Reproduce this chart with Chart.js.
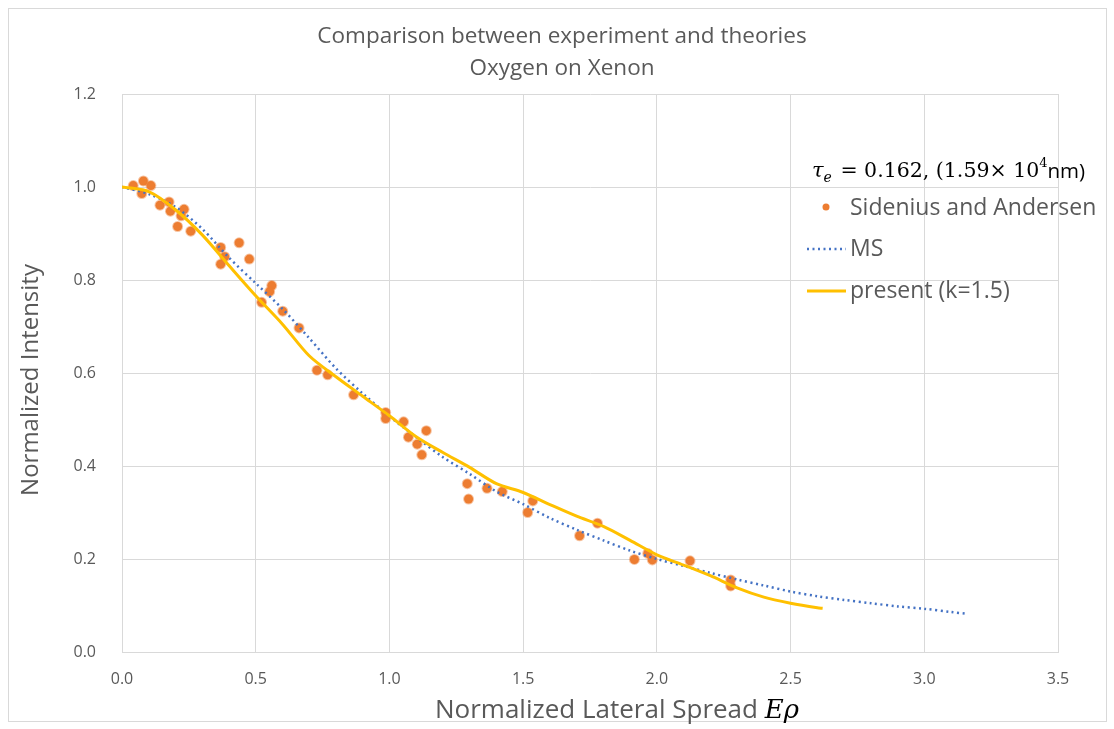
<!DOCTYPE html>
<html>
<head>
<meta charset="utf-8">
<script src="https://cdn.jsdelivr.net/npm/chart.js@4/dist/chart.umd.min.js"></script>
<style>
  body { margin: 0; background: #fff; }
</style>
</head>
<body>
<canvas id="lateral-chart" width="1114" height="729"></canvas>
<script>
"use strict";

// Sidenius and Andersen (experiment)
let expX = [0.042, 0.080, 0.108, 0.074, 0.142, 0.176, 0.181, 0.232, 0.221, 0.208, 0.257,
  0.369, 0.438, 0.384, 0.369, 0.476, 0.560, 0.552, 0.522, 0.601, 0.662, 0.729, 0.769,
  0.866, 0.986, 0.986, 1.053, 1.138, 1.071, 1.104, 1.121, 1.291, 1.296, 1.365, 1.422,
  1.536, 1.517, 1.778, 1.711, 1.966, 1.983, 1.916, 2.124, 2.276, 2.276];
let expY = [1.003, 1.013, 1.003, 0.986, 0.961, 0.968, 0.948, 0.952, 0.938, 0.915, 0.905,
  0.870, 0.880, 0.850, 0.834, 0.845, 0.788, 0.775, 0.752, 0.733, 0.697, 0.606, 0.596,
  0.553, 0.515, 0.502, 0.495, 0.476, 0.462, 0.447, 0.424, 0.362, 0.329, 0.352, 0.345,
  0.325, 0.300, 0.277, 0.250, 0.212, 0.198, 0.199, 0.196, 0.155, 0.142];

// MS theory
let msX = [0, 0.1, 0.2, 0.3, 0.4, 0.5, 0.6, 0.7, 0.8, 0.9, 1.0, 1.1, 1.2, 1.3, 1.4, 1.5,
  1.6, 1.7, 1.8, 1.9, 2.0, 2.1, 2.2, 2.3, 2.4, 2.5, 2.6, 2.7, 2.8, 2.9, 3.0, 3.1, 3.16];
let msY = [1.000, 0.985, 0.957, 0.910, 0.848, 0.793, 0.738, 0.675, 0.610, 0.556, 0.507,
  0.462, 0.419, 0.383, 0.345, 0.318, 0.288, 0.263, 0.240, 0.218, 0.200, 0.185, 0.170,
  0.156, 0.143, 0.130, 0.120, 0.112, 0.105, 0.098, 0.093, 0.086, 0.082];

// present (k=1.5)
let presentX = [0, 0.1, 0.2, 0.3, 0.4, 0.5, 0.6, 0.7, 0.8, 0.9, 1.0, 1.1, 1.2, 1.3, 1.4,
  1.5, 1.6, 1.7, 1.8, 1.9, 2.0, 2.1, 2.2, 2.3, 2.4, 2.5, 2.6, 2.62];
let presentY = [1.000, 0.990, 0.951, 0.897, 0.831, 0.766, 0.705, 0.637, 0.592, 0.550,
  0.508, 0.463, 0.429, 0.397, 0.362, 0.343, 0.317, 0.292, 0.270, 0.240, 0.209, 0.187,
  0.164, 0.138, 0.118, 0.105, 0.095, 0.094];

let titleLines = ["Comparison between experiment and theories", "Oxygen on Xenon"];
let xTitle = "Normalized Lateral Spread ";
let yTitle = "Normalized Intensity";
let legendLabels = ["Sidenius and Andersen", "MS", "present (k=1.5)"];

let orange = "#ED7D31";
let blue = "#4472C4";
let gold = "#FFC000";
let textGrey = "#595959";
let gridGrey = "#d9d9d9";
let sans = "'Open Sans', 'Noto Sans', sans-serif";
let serif = "'DejaVu Serif', 'Liberation Serif', serif";

function toPoints(xs, ys) {
  let pts = [];
  for (let i = 0; i < xs.length; i++) {
    pts.push({ x: xs[i], y: ys[i] });
  }
  return pts;
}

let decorPlugin = {
  id: "decor",
  beforeDraw(chart) {
    let ctx = chart.ctx;
    ctx.save();
    ctx.fillStyle = "#fff";
    ctx.fillRect(0, 0, chart.width, chart.height);
    ctx.strokeStyle = gridGrey;
    ctx.lineWidth = 1;
    ctx.strokeRect(8.5, 8.5, 1098, 713);
    ctx.restore();
  },
  afterDraw(chart) {
    let ctx = chart.ctx;
    ctx.save();
    ctx.fillStyle = textGrey;
    ctx.textBaseline = "middle";
    ctx.textAlign = "center";

    // title
    ctx.font = "22.5px " + sans;
    ctx.fillText(titleLines[0], 562, 37);
    ctx.fillText(titleLines[1], 562, 69);

    // x axis title with math symbol
    ctx.font = "26px " + sans;
    let w1 = ctx.measureText(xTitle).width;
    let start = 435;
    ctx.textAlign = "left";
    ctx.fillText(xTitle, start, 711);
    ctx.fillStyle = "#000";
    ctx.font = "italic 26px " + serif;
    ctx.fillText("Eρ", start + w1, 711);

    // y axis title
    ctx.fillStyle = textGrey;
    ctx.save();
    ctx.translate(31, 380);
    ctx.rotate(-Math.PI / 2);
    ctx.textAlign = "center";
    ctx.font = "24px " + sans;
    ctx.fillText(yTitle, 0, 0);
    ctx.restore();

    // legend title
    ctx.fillStyle = "#000";
    ctx.textAlign = "left";
    let x = 812;
    let y = 172;
    ctx.font = "italic 21px " + serif;
    ctx.fillText("τ", x, y);
    x += ctx.measureText("τ").width;
    ctx.font = "italic 14px " + serif;
    ctx.fillText("e", x, y + 6);
    x += ctx.measureText("e").width + 2;
    ctx.font = "20.5px " + serif;
    let mid = " = 0.162, (1.59× 10";
    ctx.fillText(mid, x, y);
    x += ctx.measureText(mid).width;
    ctx.font = "13px " + serif;
    ctx.fillText("4", x, y - 8);
    x += ctx.measureText("4").width;
    ctx.font = "20.5px " + sans;
    ctx.fillText("nm)", x, y);

    // legend entries
    ctx.fillStyle = textGrey;
    ctx.font = "23px " + sans;
    ctx.fillText(legendLabels[0], 850, 208);
    ctx.fillText(legendLabels[1], 850, 249);
    ctx.fillText(legendLabels[2], 850, 291);

    ctx.fillStyle = orange;
    ctx.beginPath();
    ctx.arc(826, 207, 3.5, 0, Math.PI * 2);
    ctx.fill();

    ctx.strokeStyle = blue;
    ctx.lineWidth = 2.5;
    ctx.setLineDash([2, 3.5]);
    ctx.beginPath();
    ctx.moveTo(807, 249);
    ctx.lineTo(846, 249);
    ctx.stroke();

    ctx.setLineDash([]);
    ctx.strokeStyle = gold;
    ctx.lineWidth = 3;
    ctx.beginPath();
    ctx.moveTo(807, 291);
    ctx.lineTo(846, 291);
    ctx.stroke();
    ctx.restore();
  }
};

let ctx = document.getElementById("lateral-chart");
let chart = new Chart(ctx, {
  type: "scatter",
  data: {
    datasets: [
      {
        label: legendLabels[0],
        data: toPoints(expX, expY),
        backgroundColor: orange,
        borderColor: "rgba(237,125,49,0.45)",
        borderWidth: 2,
        pointRadius: 4.5,
        order: 3
      },
      {
        label: legendLabels[1],
        data: toPoints(msX, msY),
        showLine: true,
        borderColor: blue,
        borderWidth: 2.5,
        borderDash: [2, 3.5],
        pointRadius: 0,
        tension: 0.3,
        order: 2
      },
      {
        label: legendLabels[2],
        data: toPoints(presentX, presentY),
        showLine: true,
        borderColor: gold,
        borderWidth: 3,
        pointRadius: 0,
        tension: 0.3,
        order: 1
      }
    ]
  },
  options: {
    responsive: false,
    animation: false,
    layout: { padding: { top: 94, right: 56, left: 0, bottom: 0 } },
    plugins: {
      legend: { display: false },
      title: { display: false },
      tooltip: { enabled: false }
    },
    scales: {
      x: {
        type: "linear",
        min: 0,
        max: 3.5,
        afterFit(scale) { scale.height = 77; },
        grid: { color: gridGrey, drawTicks: false },
        border: { color: gridGrey },
        ticks: {
          stepSize: 0.5,
          padding: 18,
          color: textGrey,
          font: { size: 16, family: sans },
          callback: (v) => v.toFixed(1)
        }
      },
      y: {
        min: 0,
        max: 1.2,
        afterFit(scale) { scale.width = 122; },
        grid: { color: gridGrey, drawTicks: false },
        border: { color: gridGrey },
        ticks: {
          stepSize: 0.2,
          padding: 26,
          color: textGrey,
          font: { size: 16, family: sans },
          callback: (v) => v.toFixed(1)
        }
      }
    }
  },
  plugins: [decorPlugin]
});
</script>
</body>
</html>
